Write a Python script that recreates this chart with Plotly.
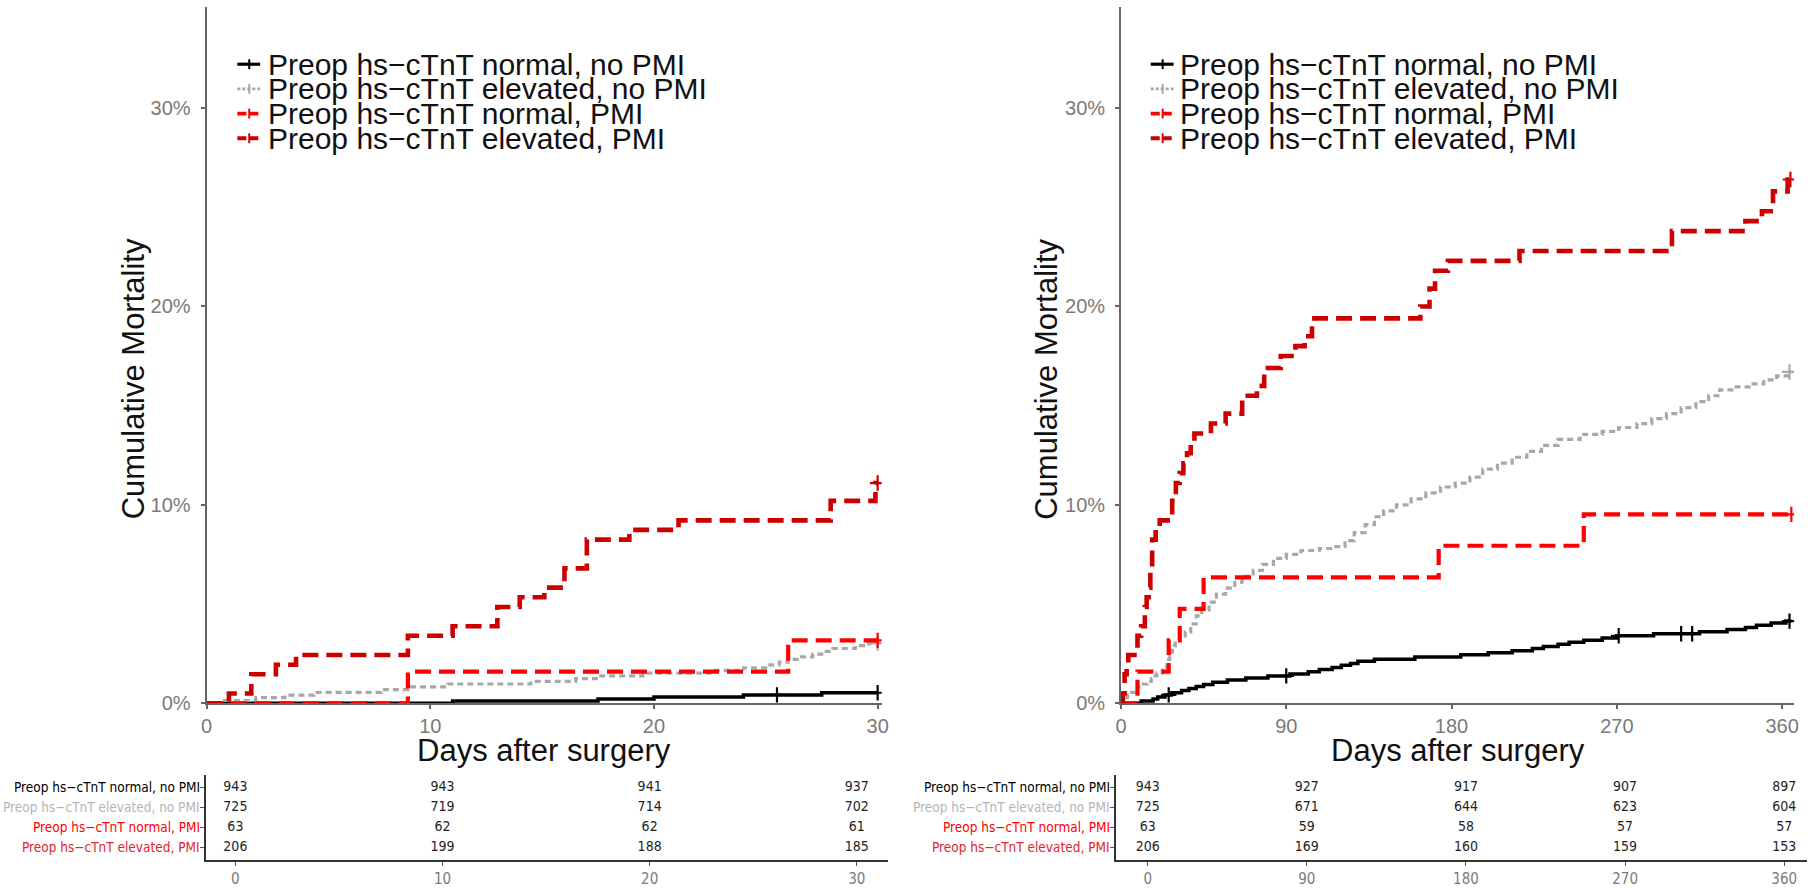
import numpy as np
import plotly.graph_objects as go

W, H = 1814, 896

groups = ["Preop hs\u2212cTnT normal, no PMI", "Preop hs\u2212cTnT elevated, no PMI",
          "Preop hs\u2212cTnT normal, PMI", "Preop hs\u2212cTnT elevated, PMI"]
line_colors = ["#000000", "#a8a8a8", "#ff0000", "#cc0000"]
label_colors = ["#000000", "#b5b5b5", "#ff0000", "#e3242b"]

# ---------------- 30-day panel (cumulative mortality, %) ----------------
d30_black_t = [0, 11.0, 17.5, 20.0, 24.0, 27.5]
d30_black_v = [0, 0.11, 0.21, 0.32, 0.42, 0.53]
d30_black_cens = [25.5, 30.0]

d30_gray_t = [0, 0.8, 2.2, 3.5, 4.8, 7.8, 9.0, 10.8, 14.5, 16.5, 17.5, 19.5, 22.5, 24.0, 25.0,
              25.6, 26.0, 26.6, 27.1, 27.6, 28.0, 29.0, 29.6]
d30_gray_v = [0, 0.14, 0.28, 0.41, 0.55, 0.69, 0.83, 0.97, 1.10, 1.24, 1.38, 1.52, 1.66, 1.79, 1.93,
              2.07, 2.21, 2.34, 2.48, 2.62, 2.76, 2.90, 3.03]
d30_gray_cens = [30.0]

d30_npmi_t = [0, 9.0, 26.0]
d30_npmi_v = [0, 1.59, 3.17]
d30_npmi_cens = [30.0]

d30_epmi_t = [0, 1.0, 2.0, 3.1, 4.0, 9.0, 11.0, 13.0, 14.0, 15.1, 16.0, 17.0, 18.9, 21.1, 27.9, 29.9]
d30_epmi_v = [0, 0.49, 1.46, 1.94, 2.43, 3.40, 3.88, 4.85, 5.34, 5.83, 6.80, 8.25, 8.74, 9.22, 10.2, 11.1]
d30_epmi_cens = [30.0]

d30_ticks = [0, 10, 20, 30]
d30_risk = [[943, 943, 941, 937],
            [725, 719, 714, 702],
            [63, 62, 62, 61],
            [206, 199, 188, 185]]

# ---------------- 360-day panel ----------------
d360_black_t = [0, 11, 17.5, 20, 24, 27.5, 33, 37, 41, 45, 50, 58, 68, 80, 92, 102, 108, 115, 120,
                125, 129, 138, 160, 185, 200, 213, 224, 230, 238, 244, 252, 262, 270, 290, 315,
                330, 340, 346, 354, 362]
d360_black_v = [0, 0.11, 0.21, 0.32, 0.42, 0.53, 0.64, 0.74, 0.85, 0.95, 1.06, 1.17, 1.27, 1.38,
                1.48, 1.59, 1.70, 1.80, 1.91, 2.01, 2.12, 2.22, 2.33, 2.44, 2.55, 2.65, 2.76, 2.86,
                2.97, 3.08, 3.18, 3.29, 3.40, 3.50, 3.61, 3.72, 3.82, 3.93, 4.04, 4.14]
d360_black_cens = [26, 90, 271, 305, 311, 364]

d360_gray_t = [0, 0.8, 2.2, 3.5, 4.8, 7.8, 9, 10.8, 14.5, 16.5, 17.5, 19.5, 22.5, 24, 25, 25.6, 26,
               26.6, 27.1, 27.6, 28, 29, 29.6, 32, 35, 38, 41, 44, 48, 52, 57, 62, 66, 72, 77, 83,
               90, 98, 108, 116, 122, 127, 133, 138, 143, 150, 158, 166, 174, 182, 190, 197, 205,
               213, 221, 229, 238, 250, 262, 271, 281, 289, 297, 305, 313, 320, 326, 334, 342,
               350, 357, 363]
d360_gray_v = [0, 0.14, 0.28, 0.41, 0.55, 0.69, 0.83, 0.97, 1.10, 1.24, 1.38, 1.52, 1.66, 1.79,
               1.93, 2.07, 2.21, 2.34, 2.48, 2.62, 2.76, 2.90, 3.03, 3.3, 3.6, 4.0, 4.4, 4.7, 5.1,
               5.5, 5.8, 6.1, 6.4, 6.7, 7.0, 7.3, 7.5, 7.7, 7.8, 7.9, 8.2, 8.6, 9.0, 9.4, 9.7, 10.0,
               10.3, 10.6, 10.9, 11.1, 11.4, 11.8, 12.1, 12.4, 12.7, 13.0, 13.3, 13.55, 13.7, 13.9,
               14.1, 14.35, 14.6, 14.9, 15.2, 15.5, 15.8, 15.95, 16.1, 16.3, 16.5, 16.7]
d360_gray_cens = [364]

d360_npmi_t = [0, 9, 26, 32, 45, 173, 252]
d360_npmi_v = [0, 1.59, 3.17, 4.76, 6.35, 7.94, 9.52]
d360_npmi_cens = [365]

d360_epmi_t = [0, 1, 2, 3.1, 4, 9, 11, 13, 14, 15.1, 16, 17, 18.9, 21.1, 27.9, 29.9, 32, 34, 36, 38,
               40, 49, 57, 66, 74, 78, 87, 95, 100, 104, 163, 168, 171, 178, 217, 300, 340, 349,
               355, 363]
d360_epmi_v = [0, 0.49, 1.46, 1.94, 2.43, 3.40, 3.88, 4.85, 5.34, 5.83, 6.80, 8.25, 8.74, 9.22,
               10.2, 11.1, 11.6, 12.1, 12.6, 13.1, 13.6, 14.1, 14.6, 15.5, 16.0, 16.9, 17.5, 18.0,
               18.5, 19.4, 20.0, 20.9, 21.8, 22.3, 22.8, 23.8, 24.3, 24.8, 25.8, 26.4]
d360_epmi_cens = [364.5]

d360_ticks = [0, 90, 180, 270, 360]
d360_risk = [[943, 927, 917, 907, 897],
             [725, 671, 644, 623, 604],
             [63, 59, 58, 57, 57],
             [206, 169, 160, 159, 153]]

y_ticks = [0, 10, 20, 30]
y_tick_labels = ["0%", "10%", "20%", "30%"]

# ---------------- styling ----------------
styles = [dict(width=3.5, dash="solid"),
          dict(width=3.2, dash="6px,4px"),
          dict(width=4.2, dash="16px,8px"),
          dict(width=4.6, dash="16px,8px")]

SANS = "Liberation Sans, Arial, sans-serif"
NARROW = "Liberation Sans Narrow, Arial Narrow, DejaVu Sans Condensed, sans-serif"
TICK_GRAY = "#7a7a7a"
AXIS_GRAY = "#666666"


def px(x):
    return x / W


def py(y):
    return 1 - y / H


fig = go.Figure()


def add_curve(t, v, t_end, cens, i, xa, ya):
    st = styles[i]
    fig.add_trace(go.Scatter(
        x=list(t) + [t_end], y=list(v) + [v[-1]], mode="lines",
        line=dict(shape="hv", color=line_colors[i], width=st["width"], dash=st["dash"]),
        xaxis=xa, yaxis=ya, showlegend=False, hoverinfo="skip"))
    ta = np.array(t)
    va = np.array(v)
    idx = np.searchsorted(ta, np.array(cens), side="right") - 1
    fig.add_trace(go.Scatter(
        x=cens, y=va[idx], mode="markers",
        marker=dict(symbol="cross-thin", size=11, line=dict(color=line_colors[i], width=2.2)),
        xaxis=xa, yaxis=ya, showlegend=False, hoverinfo="skip"))


panel30 = [(d30_black_t, d30_black_v, d30_black_cens), (d30_gray_t, d30_gray_v, d30_gray_cens),
           (d30_npmi_t, d30_npmi_v, d30_npmi_cens), (d30_epmi_t, d30_epmi_v, d30_epmi_cens)]
panel360 = [(d360_black_t, d360_black_v, d360_black_cens), (d360_gray_t, d360_gray_v, d360_gray_cens),
            (d360_npmi_t, d360_npmi_v, d360_npmi_cens), (d360_epmi_t, d360_epmi_v, d360_epmi_cens)]

for i, (t, v, c) in enumerate(panel30):
    add_curve(t, v, 30.0, c, i, "x", "y")
for i, (t, v, c) in enumerate(panel360):
    add_curve(t, v, 365.0, c, i, "x2", "y2")

# risk tables
for i in range(4):
    fig.add_trace(go.Scatter(
        x=d30_ticks, y=[3 - i] * len(d30_ticks), text=[str(n) for n in d30_risk[i]],
        mode="text", textfont=dict(family=NARROW, size=14, color="#1e1e1e"),
        xaxis="x3", yaxis="y3", showlegend=False, hoverinfo="skip"))
    fig.add_trace(go.Scatter(
        x=d360_ticks, y=[3 - i] * len(d360_ticks), text=[str(n) for n in d360_risk[i]],
        mode="text", textfont=dict(family=NARROW, size=14, color="#1e1e1e"),
        xaxis="x4", yaxis="y4", showlegend=False, hoverinfo="skip"))

main_y_dom = [py(712), py(7)]
tab_y_dom = [py(871), py(785)]

main_x_common = dict(showline=True, linecolor=AXIS_GRAY, linewidth=1.8, ticks="outside", ticklen=4,
                     tickcolor=AXIS_GRAY, tickwidth=1.5, showgrid=False, zeroline=False,
                     tickfont=dict(family=SANS, size=20, color=TICK_GRAY))
main_y_common = dict(showline=True, linecolor=AXIS_GRAY, linewidth=1.8, ticks="outside", ticklen=4,
                     tickcolor=AXIS_GRAY, tickwidth=1.5, showgrid=False, zeroline=False,
                     tickmode="array", tickvals=y_ticks, ticktext=y_tick_labels,
                     range=[0, 35.1], domain=main_y_dom, ticklabelstandoff=6,
                     tickfont=dict(family=SANS, size=20, color=TICK_GRAY))
tab_x_common = dict(showline=True, linecolor="#333333", linewidth=2, ticks="outside", ticklen=4,
                    tickcolor="#555555", showgrid=False, zeroline=False,
                    tickfont=dict(family=NARROW, size=15, color=TICK_GRAY))
tab_y_common = dict(showline=True, linecolor="#333333", linewidth=2, ticks="outside", ticklen=4,
                    tickcolor="#555555", showgrid=False, zeroline=False, showticklabels=False,
                    tickvals=[0, 1, 2, 3], range=[-0.64, 3.59], domain=tab_y_dom)

fig.update_layout(
    width=W, height=H, margin=dict(l=0, r=0, t=0, b=0),
    paper_bgcolor="white", plot_bgcolor="white", showlegend=False,
    xaxis=dict(domain=[px(202), px(882)], range=[0, 30.18], tickvals=d30_ticks, anchor="y",
               **main_x_common),
    yaxis=dict(anchor="x", **main_y_common),
    xaxis2=dict(domain=[px(1123), px(1801)], range=[0, 366.5], tickvals=d360_ticks, anchor="y2",
                **main_x_common),
    yaxis2=dict(anchor="x2", **main_y_common),
    xaxis3=dict(domain=[px(201), px(888)], range=[-1.44, 31.49], tickvals=d30_ticks, anchor="y3",
                **tab_x_common),
    yaxis3=dict(anchor="x3", **tab_y_common),
    xaxis4=dict(domain=[px(1118), 1.0], range=[-17.97, 372.9], tickvals=d360_ticks, anchor="y4",
                **tab_x_common),
    yaxis4=dict(anchor="x4", **tab_y_common),
)

ann = []
# axis titles
for xc in (542, 1462):
    ann.append(dict(text="Days after surgery", x=px(xc), y=py(760), xref="paper", yref="paper",
                    showarrow=False, xanchor="center", yanchor="middle",
                    font=dict(family=SANS, size=31, color="#111111")))
for xc in (128, 1048):
    ann.append(dict(text="Cumulative Mortality", x=px(xc), y=py(384), xref="paper", yref="paper",
                    showarrow=False, textangle=-90, xanchor="center", yanchor="middle",
                    font=dict(family=SANS, size=31, color="#111111")))

# legends (one per panel)
legend_rows_y = [65, 90, 115, 140]
shapes = []
for key_x0, text_x in ((233, 262), (1153, 1180)):
    for i in range(4):
        yy = py(legend_rows_y[i])
        st = styles[i]
        shapes.append(dict(type="line", xref="paper", yref="paper", x0=px(key_x0), x1=px(key_x0 + 23),
                           y0=yy, y1=yy,
                           line=dict(color=line_colors[i], width=st["width"] * 0.9,
                                     dash="solid" if i == 0 else ("3px,2px" if i == 1 else "9px,3px"))))
        shapes.append(dict(type="line", xref="paper", yref="paper", x0=px(key_x0 + 12), x1=px(key_x0 + 12),
                           y0=yy - 5 / H, y1=yy + 5 / H, line=dict(color=line_colors[i], width=2)))
        ann.append(dict(text=groups[i], x=px(text_x), y=yy, xref="paper", yref="paper", showarrow=False,
                        xanchor="left", yanchor="middle",
                        font=dict(family=SANS, size=30, color="#111111")))

# risk table row labels
for xr, yref in ((197, "y3"), (1114, "y4")):
    for i in range(4):
        ann.append(dict(text=groups[i], x=px(xr), y=3 - i, xref="paper", yref=yref, showarrow=False,
                        xanchor="right", yanchor="middle",
                        font=dict(family=NARROW, size=13.5, color=label_colors[i])))

fig.update_layout(annotations=ann, shapes=shapes)
fig.write_html("out.html")
